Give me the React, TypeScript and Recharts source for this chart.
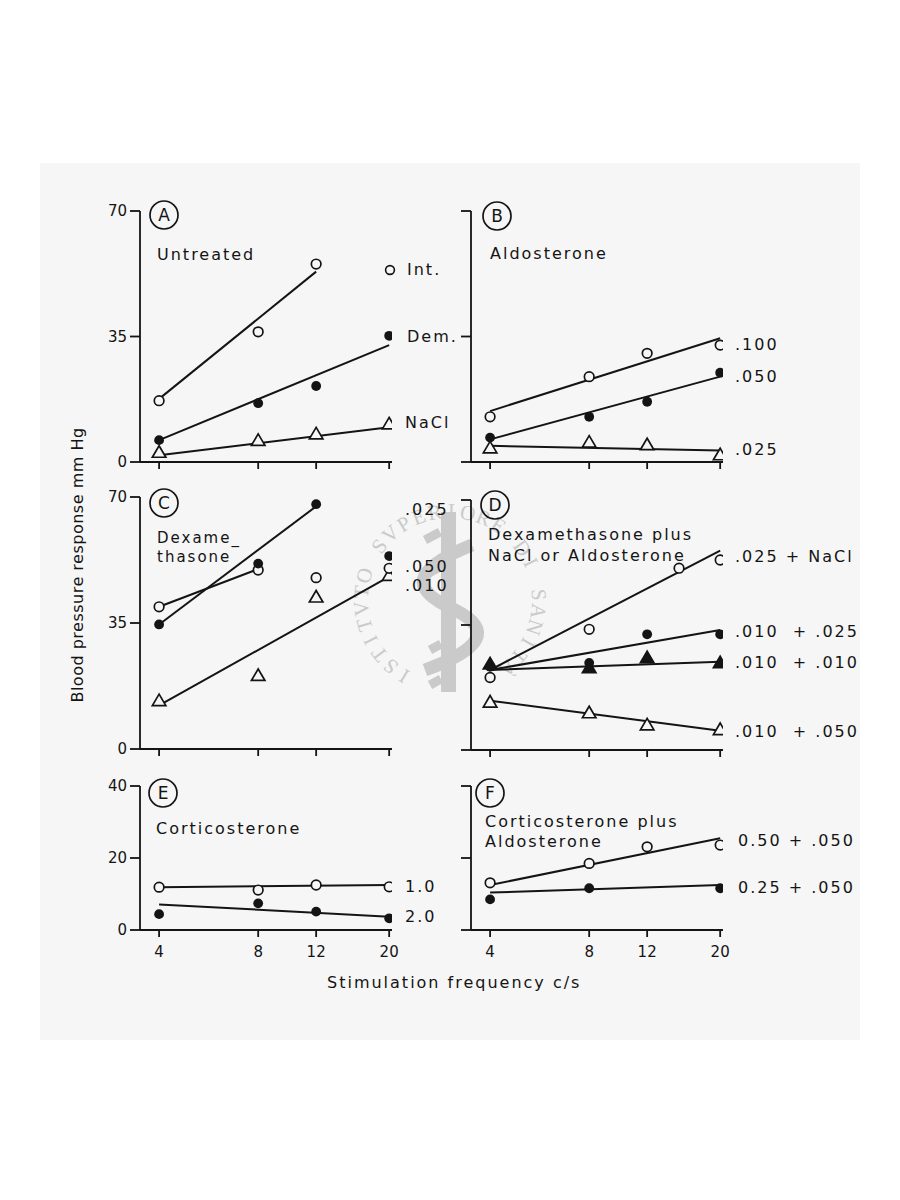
import React from 'react';
import { ComposedChart, Line, Scatter, XAxis, YAxis } from 'recharts';

type Pt = { x: number; y: number };
type Marker = 'open' | 'filled' | 'openTri' | 'filledTri';
type Series = { points: Pt[]; fit: Pt[]; marker: Marker };

// ---------- shared axis values ----------
const xTicks = [4, 8, 12, 20];
const xDomain: [number, number] = [3.5, 20.4];
const yTicks70 = [0, 35, 70];
const yTicks40 = [0, 20, 40];

// ---------- Panel A : Untreated ----------
const aIntPoints: Pt[] = [{ x: 4, y: 17.1 }, { x: 8, y: 36.3 }, { x: 12, y: 55.2 }];
const aIntFit: Pt[] = [{ x: 4, y: 17.6 }, { x: 12, y: 53.1 }];
const aDemPoints: Pt[] = [{ x: 4, y: 6.1 }, { x: 8, y: 16.4 }, { x: 12, y: 21.2 }, { x: 20, y: 35.2 }];
const aDemFit: Pt[] = [{ x: 4, y: 6.1 }, { x: 20, y: 32.6 }];
const aNaclPoints: Pt[] = [{ x: 4, y: 2.4 }, { x: 8, y: 5.7 }, { x: 12, y: 7.5 }, { x: 20, y: 10.3 }];
const aNaclFit: Pt[] = [{ x: 4, y: 1.9 }, { x: 20, y: 9.7 }];

// ---------- Panel B : Aldosterone ----------
const b100Points: Pt[] = [{ x: 4, y: 12.6 }, { x: 8, y: 23.8 }, { x: 12, y: 30.3 }, { x: 20, y: 32.6 }];
const b100Fit: Pt[] = [{ x: 4, y: 14.2 }, { x: 20, y: 34.5 }];
const b050Points: Pt[] = [{ x: 4, y: 6.8 }, { x: 8, y: 12.6 }, { x: 12, y: 16.8 }, { x: 20, y: 24.9 }];
const b050Fit: Pt[] = [{ x: 4, y: 6.3 }, { x: 20, y: 23.8 }];
const b025Points: Pt[] = [{ x: 4, y: 3.6 }, { x: 8, y: 5.2 }, { x: 12, y: 4.5 }, { x: 20, y: 1.7 }];
const b025Fit: Pt[] = [{ x: 4, y: 4.5 }, { x: 20, y: 3.2 }];

// ---------- Panel C : Dexamethasone ----------
const c025Points: Pt[] = [{ x: 4, y: 34.6 }, { x: 8, y: 51.5 }, { x: 12, y: 68 }, { x: 20, y: 53.6 }];
const c025Fit: Pt[] = [{ x: 4, y: 34.6 }, { x: 12, y: 67.4 }];
const c050Points: Pt[] = [{ x: 4, y: 39.5 }, { x: 8, y: 49.7 }, { x: 12, y: 47.6 }, { x: 20, y: 50.2 }];
const c050Fit: Pt[] = [{ x: 4, y: 39.5 }, { x: 8, y: 50 }];
const c010Points: Pt[] = [{ x: 4, y: 13.1 }, { x: 8, y: 20.1 }, { x: 12, y: 41.9 }, { x: 20, y: 47.9 }];
const c010Fit: Pt[] = [{ x: 4, y: 12.1 }, { x: 20, y: 47.9 }];

// ---------- Panel D : Dexamethasone plus NaCl or Aldosterone ----------
const dNaclPoints: Pt[] = [{ x: 4, y: 20.3 }, { x: 8, y: 33.8 }, { x: 15, y: 50.9 }, { x: 20, y: 53.2 }];
const dNaclFit: Pt[] = [{ x: 4, y: 22.4 }, { x: 20, y: 55.8 }];
const d025Points: Pt[] = [{ x: 4, y: 23.3 }, { x: 8, y: 24.4 }, { x: 12, y: 32.4 }, { x: 20, y: 32.4 }];
const d025Fit: Pt[] = [{ x: 4, y: 22.4 }, { x: 20, y: 33.6 }];
const d010Points: Pt[] = [{ x: 4, y: 23.8 }, { x: 8, y: 22.7 }, { x: 12, y: 25.5 }, { x: 20, y: 24.1 }];
const d010Fit: Pt[] = [{ x: 4, y: 22.4 }, { x: 20, y: 24.7 }];
const d050Points: Pt[] = [{ x: 4, y: 13.1 }, { x: 8, y: 10.1 }, { x: 12, y: 6.7 }, { x: 20, y: 5.4 }];
const d050Fit: Pt[] = [{ x: 4, y: 13.8 }, { x: 20, y: 5.4 }];

// ---------- Panel E : Corticosterone ----------
const e10Points: Pt[] = [{ x: 4, y: 11.9 }, { x: 8, y: 11.1 }, { x: 12, y: 12.5 }, { x: 20, y: 12 }];
const e10Fit: Pt[] = [{ x: 4, y: 11.9 }, { x: 20, y: 12.5 }];
const e20Points: Pt[] = [{ x: 4, y: 4.4 }, { x: 8, y: 7.4 }, { x: 12, y: 5.1 }, { x: 20, y: 3.25 }];
const e20Fit: Pt[] = [{ x: 4, y: 7.1 }, { x: 20, y: 3.7 }];

// ---------- Panel F : Corticosterone plus Aldosterone ----------
const f050Points: Pt[] = [{ x: 4, y: 13.1 }, { x: 8, y: 18.5 }, { x: 12, y: 23.1 }, { x: 20, y: 23.6 }];
const f050Fit: Pt[] = [{ x: 4, y: 12.5 }, { x: 20, y: 25.5 }];
const f025Points: Pt[] = [{ x: 4, y: 8.5 }, { x: 8, y: 11.6 }, { x: 20, y: 11.6 }];
const f025Fit: Pt[] = [{ x: 4, y: 10.4 }, { x: 20, y: 12.5 }];

// ---------- styling ----------
const FONT = '"DejaVu Sans", "Noto Sans", sans-serif';
const INK = '#141414';
const PAPER = '#f6f6f6';
const PLOT_W = 252;
const YW = 60;
const MT = 20;
const XH = 45;
const RM = 12;

function markerShape(kind: Marker) {
  return (props: any) => {
    const { cx, cy } = props;
    if (cx == null || cy == null || isNaN(cx) || isNaN(cy)) return <g />;
    if (kind === 'open')
      return <circle cx={cx} cy={cy} r={4.8} fill={PAPER} stroke={INK} strokeWidth={1.7} />;
    if (kind === 'filled') return <circle cx={cx} cy={cy} r={4.9} fill={INK} />;
    const w = 13.5;
    const h = 11.5;
    const pts = `${cx},${cy - (2 * h) / 3} ${cx - w / 2},${cy + h / 3} ${cx + w / 2},${cy + h / 3}`;
    return (
      <polygon
        points={pts}
        fill={kind === 'filledTri' ? INK : PAPER}
        stroke={INK}
        strokeWidth={1.7}
        strokeLinejoin="miter"
      />
    );
  };
}

const NoTick = () => <g />;

type PanelProps = {
  plotLeft: number;
  plotTop: number;
  plotH: number;
  yDomain: [number, number];
  yTicks: number[];
  yLabels: boolean;
  xLabels: boolean;
  series: Series[];
};

function Panel({ plotLeft, plotTop, plotH, yDomain, yTicks, yLabels, xLabels, series }: PanelProps) {
  const width = YW + PLOT_W + RM;
  const height = MT + plotH + XH;
  const tickText = { fill: INK, fontSize: 15, fontFamily: FONT };
  return (
    <div style={{ position: 'absolute', left: plotLeft - YW, top: plotTop - MT }}>
      <ComposedChart width={width} height={height} margin={{ top: MT, right: RM, bottom: 0, left: 0 }}>
        <XAxis
          dataKey="x"
          type="number"
          scale="log"
          domain={xDomain}
          allowDataOverflow
          ticks={xTicks}
          interval={0}
          height={XH}
          tickSize={7}
          tickMargin={9}
          axisLine={{ stroke: INK, strokeWidth: 1.8 }}
          tickLine={{ stroke: INK, strokeWidth: 1.8 }}
          tick={xLabels ? tickText : NoTick}
        />
        <YAxis
          dataKey="y"
          type="number"
          domain={yDomain}
          allowDataOverflow
          ticks={yTicks}
          interval={0}
          width={YW}
          tickSize={10}
          tickMargin={3}
          axisLine={{ stroke: INK, strokeWidth: 1.8 }}
          tickLine={{ stroke: INK, strokeWidth: 1.8 }}
          tick={yLabels ? tickText : NoTick}
        />
        {series.map((s, i) => (
          <Line
            key={'fit' + i}
            data={s.fit}
            dataKey="y"
            type="linear"
            stroke={INK}
            strokeWidth={2}
            dot={false}
            activeDot={false}
            isAnimationActive={false}
          />
        ))}
        {series.map((s, i) => (
          <Scatter
            key={'pts' + i}
            data={s.points}
            dataKey="y"
            shape={markerShape(s.marker)}
            isAnimationActive={false}
          />
        ))}
      </ComposedChart>
    </div>
  );
}

const panelA: Series[] = [
  { points: aIntPoints, fit: aIntFit, marker: 'open' },
  { points: aDemPoints, fit: aDemFit, marker: 'filled' },
  { points: aNaclPoints, fit: aNaclFit, marker: 'openTri' },
];
const panelB: Series[] = [
  { points: b100Points, fit: b100Fit, marker: 'open' },
  { points: b050Points, fit: b050Fit, marker: 'filled' },
  { points: b025Points, fit: b025Fit, marker: 'openTri' },
];
const panelC: Series[] = [
  { points: c010Points, fit: c010Fit, marker: 'openTri' },
  { points: c050Points, fit: c050Fit, marker: 'open' },
  { points: c025Points, fit: c025Fit, marker: 'filled' },
];
const panelD: Series[] = [
  { points: dNaclPoints, fit: dNaclFit, marker: 'open' },
  { points: d050Points, fit: d050Fit, marker: 'openTri' },
  { points: d025Points, fit: d025Fit, marker: 'filled' },
  { points: d010Points, fit: d010Fit, marker: 'filledTri' },
];
const panelE: Series[] = [
  { points: e10Points, fit: e10Fit, marker: 'open' },
  { points: e20Points, fit: e20Fit, marker: 'filled' },
];
const panelF: Series[] = [
  { points: f050Points, fit: f050Fit, marker: 'open' },
  { points: f025Points, fit: f025Fit, marker: 'filled' },
];

type Note = { x: number; y: number; t: string; s?: number };
const notes: Note[] = [
  { x: 157, y: 260, t: 'Untreated' },
  { x: 407, y: 275, t: 'Int.' },
  { x: 407, y: 342, t: 'Dem.' },
  { x: 405, y: 428, t: 'NaCl' },
  { x: 490, y: 259, t: 'Aldosterone' },
  { x: 735, y: 350, t: '.100' },
  { x: 735, y: 382, t: '.050' },
  { x: 735, y: 455, t: '.025' },
  { x: 157, y: 543, t: 'Dexame_', s: 15 },
  { x: 157, y: 561.5, t: 'thasone', s: 15 },
  { x: 405, y: 515, t: '.025' },
  { x: 405, y: 572, t: '.050' },
  { x: 405, y: 591, t: '.010' },
  { x: 488, y: 540, t: 'Dexamethasone plus' },
  { x: 488, y: 561, t: 'NaCl or Aldosterone' },
  { x: 735, y: 562, t: '.025 + NaCl' },
  { x: 735, y: 637, t: '.010  + .025' },
  { x: 735, y: 668, t: '.010  + .010' },
  { x: 735, y: 737, t: '.010  + .050' },
  { x: 156, y: 834, t: 'Corticosterone' },
  { x: 405, y: 892, t: '1.0' },
  { x: 405, y: 922, t: '2.0' },
  { x: 485, y: 827, t: 'Corticosterone plus' },
  { x: 485, y: 847, t: 'Aldosterone' },
  { x: 738, y: 846, t: '0.50 + .050' },
  { x: 738, y: 893, t: '0.25 + .050' },
];

const letters = [
  { x: 164, y: 215, t: 'A' },
  { x: 497, y: 216, t: 'B' },
  { x: 164, y: 503, t: 'C' },
  { x: 495, y: 505, t: 'D' },
  { x: 163, y: 793, t: 'E' },
  { x: 490, y: 793, t: 'F' },
];

const WM_TEXT = 'ISTITVTO SVPERIORE DI SANITÀ';

function Watermark() {
  const cx = 450;
  const cy = 600;
  const r = 82;
  const start = 121;
  const end = 410;
  const chars = Array.from(WM_TEXT);
  const step = (end - start) / (chars.length - 1);
  const g = '#cacaca';
  return (
    <svg width={900} height={1200} style={{ position: 'absolute', left: 0, top: 0 }}>
      <rect x={441} y={512} width={15} height={180} fill={g} />
      <path d="M 472 545 C 410 570, 410 590, 455 610 C 495 630, 480 650, 425 670" stroke={g} strokeWidth={13} fill="none" />
      <path d="M 425 540 L 440 532 M 425 575 L 440 567 M 430 650 L 441 644 M 430 685 L 441 679" stroke={g} strokeWidth={9} />
      {chars.map((ch, i) => {
        if (ch === ' ') return null;
        const a = start + i * step;
        const rad = (a * Math.PI) / 180;
        const x = cx + r * Math.cos(rad);
        const y = cy + r * Math.sin(rad);
        return (
          <text
            key={'wm' + i}
            x={x}
            y={y}
            textAnchor="middle"
            fontFamily='"Liberation Serif", serif'
            fontSize={21}
            fill={g}
            transform={`rotate(${a + 90} ${x} ${y})`}
          >
            {ch}
          </text>
        );
      })}
    </svg>
  );
}

export default function App() {
  return (
    <div style={{ position: 'absolute', left: 0, top: 0, width: 900, height: 1200, background: '#ffffff', overflow: 'hidden' }}>
      <div style={{ position: 'absolute', left: 40, top: 163, width: 820, height: 877, background: PAPER }} />
      <Watermark />
      <Panel plotLeft={140} plotTop={211} plotH={251} yDomain={[0, 70]} yTicks={yTicks70} yLabels xLabels={false} series={panelA} />
      <Panel plotLeft={471} plotTop={211} plotH={251} yDomain={[0, 70]} yTicks={yTicks70} yLabels={false} xLabels={false} series={panelB} />
      <Panel plotLeft={140} plotTop={497} plotH={252} yDomain={[0, 70]} yTicks={yTicks70} yLabels xLabels={false} series={panelC} />
      <Panel plotLeft={471} plotTop={500} plotH={250} yDomain={[0, 70]} yTicks={yTicks70} yLabels={false} xLabels={false} series={panelD} />
      <Panel plotLeft={140} plotTop={786} plotH={144} yDomain={[0, 40]} yTicks={yTicks40} yLabels xLabels series={panelE} />
      <Panel plotLeft={471} plotTop={786} plotH={144} yDomain={[0, 40]} yTicks={yTicks40} yLabels={false} xLabels series={panelF} />
      <svg width={900} height={1200} style={{ position: 'absolute', left: 0, top: 0, pointerEvents: 'none' }}>
        <g fontFamily={FONT} fill={INK} fontSize={16} letterSpacing={2}>
          {notes.map((n, i) => (
            <text key={i} x={n.x} y={n.y} fontSize={n.s ?? 16} style={{ whiteSpace: 'pre' }}>
              {n.t}
            </text>
          ))}
          <text x={327} y={988}>Stimulation frequency c/s</text>
          <text x={83} y={565} textAnchor="middle" letterSpacing={0.5} transform="rotate(-90 83 565)">
            Blood pressure response mm Hg
          </text>
        </g>
        <circle cx={390} cy={270} r={4.4} fill={PAPER} stroke={INK} strokeWidth={1.6} />
        {letters.map((l, i) => (
          <g key={'L' + i}>
            <circle cx={l.x} cy={l.y} r={14} fill="none" stroke={INK} strokeWidth={1.7} />
            <text x={l.x} y={l.y + 6} textAnchor="middle" fontFamily={FONT} fontSize={17} fill={INK}>
              {l.t}
            </text>
          </g>
        ))}
      </svg>
    </div>
  );
}
